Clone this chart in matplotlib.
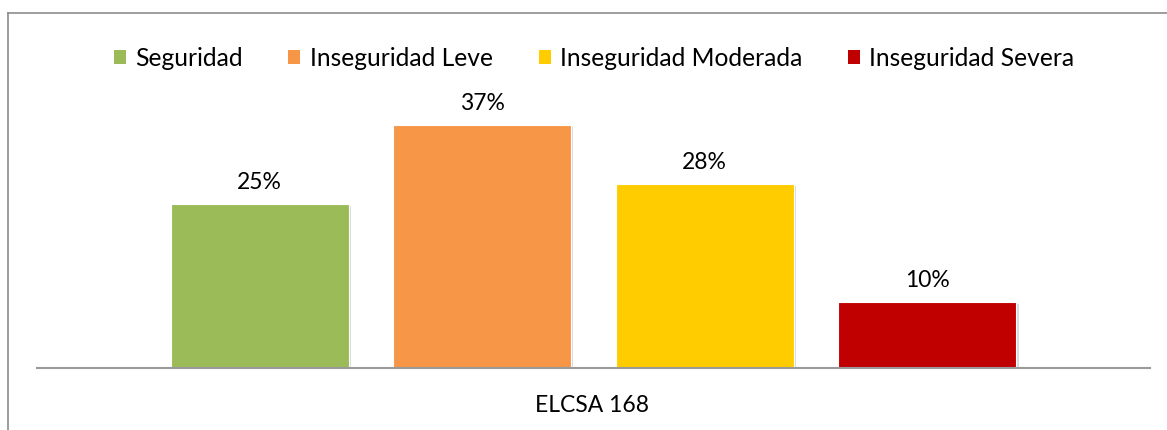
import matplotlib
matplotlib.use("Agg")
import matplotlib.pyplot as plt
from matplotlib.lines import Line2D
from matplotlib.patches import Patch
import matplotlib.patheffects as pe

categories = ["Seguridad", "Inseguridad Leve", "Inseguridad Moderada", "Inseguridad Severa"]
values = [25, 37, 28, 10]
labels = ["25%", "37%", "28%", "10%"]
colors = ["#9BBB59", "#F79646", "#FFCC00", "#C00000"]
group_label = "ELCSA 168"

W, H = 1167, 430
fig = plt.figure(figsize=(W / 100, H / 100), dpi=100)
plt.rcParams['font.family'] = ['Lato', 'DejaVu Sans']
FS = 16.5
LFS = 17.7

# axes placement in pixels
ax_left, ax_right = 37, 1150
ax_bottom, ax_top = 368, 105
ax = fig.add_axes([ax_left / W, 1 - ax_bottom / H, (ax_right - ax_left) / W, (ax_bottom - ax_top) / H])

x = list(range(len(values)))
bars = ax.bar(x, values, width=0.80, color=colors, edgecolor="white", linewidth=0.8, zorder=2)
for b in bars:
    b.set_path_effects([pe.SimplePatchShadow(offset=(1.5, -1.5), shadow_rgbFace="#999999", alpha=0.35), pe.Normal()])

for xi, v, lab in zip(x, values, labels):
    ax.annotate(lab, (xi, v), xytext=(0, 8), textcoords="offset points", ha="center", va="bottom",
                fontsize=FS, color="#000000")

ax.set_xlim(-1, 4)
ax.set_ylim(0, 40)
for s in ["top", "right", "left"]:
    ax.spines[s].set_visible(False)
ax.spines["bottom"].set_color("#9A9A9A")
ax.spines["bottom"].set_linewidth(1.5)
ax.set_yticks([])
ax.set_xticks([])
ax.patch.set_alpha(0)

fig.text(592 / W, 1 - 405 / H, group_label, ha="center", va="center", fontsize=FS, color="#000000")

handles = [Patch(facecolor=c, edgecolor="none") for c in colors]
leg = fig.legend(handles, categories, loc="center", bbox_to_anchor=(594 / W, 1 - 58 / H), ncol=4,
                 frameon=False, fontsize=LFS, handlelength=0.49, handleheight=0.49,
                 handletextpad=0.37, columnspacing=1.87)

# chart border (left and top visible)
fig.add_artist(Line2D([7.5 / W, 7.5 / W], [0, 1 - 12.5 / H], transform=fig.transFigure, color="#8C8C8C", linewidth=1.2))
fig.add_artist(Line2D([7.5 / W, 1], [1 - 12.5 / H, 1 - 12.5 / H], transform=fig.transFigure, color="#8C8C8C", linewidth=1.2))

fig.savefig("out.png", dpi=100)
